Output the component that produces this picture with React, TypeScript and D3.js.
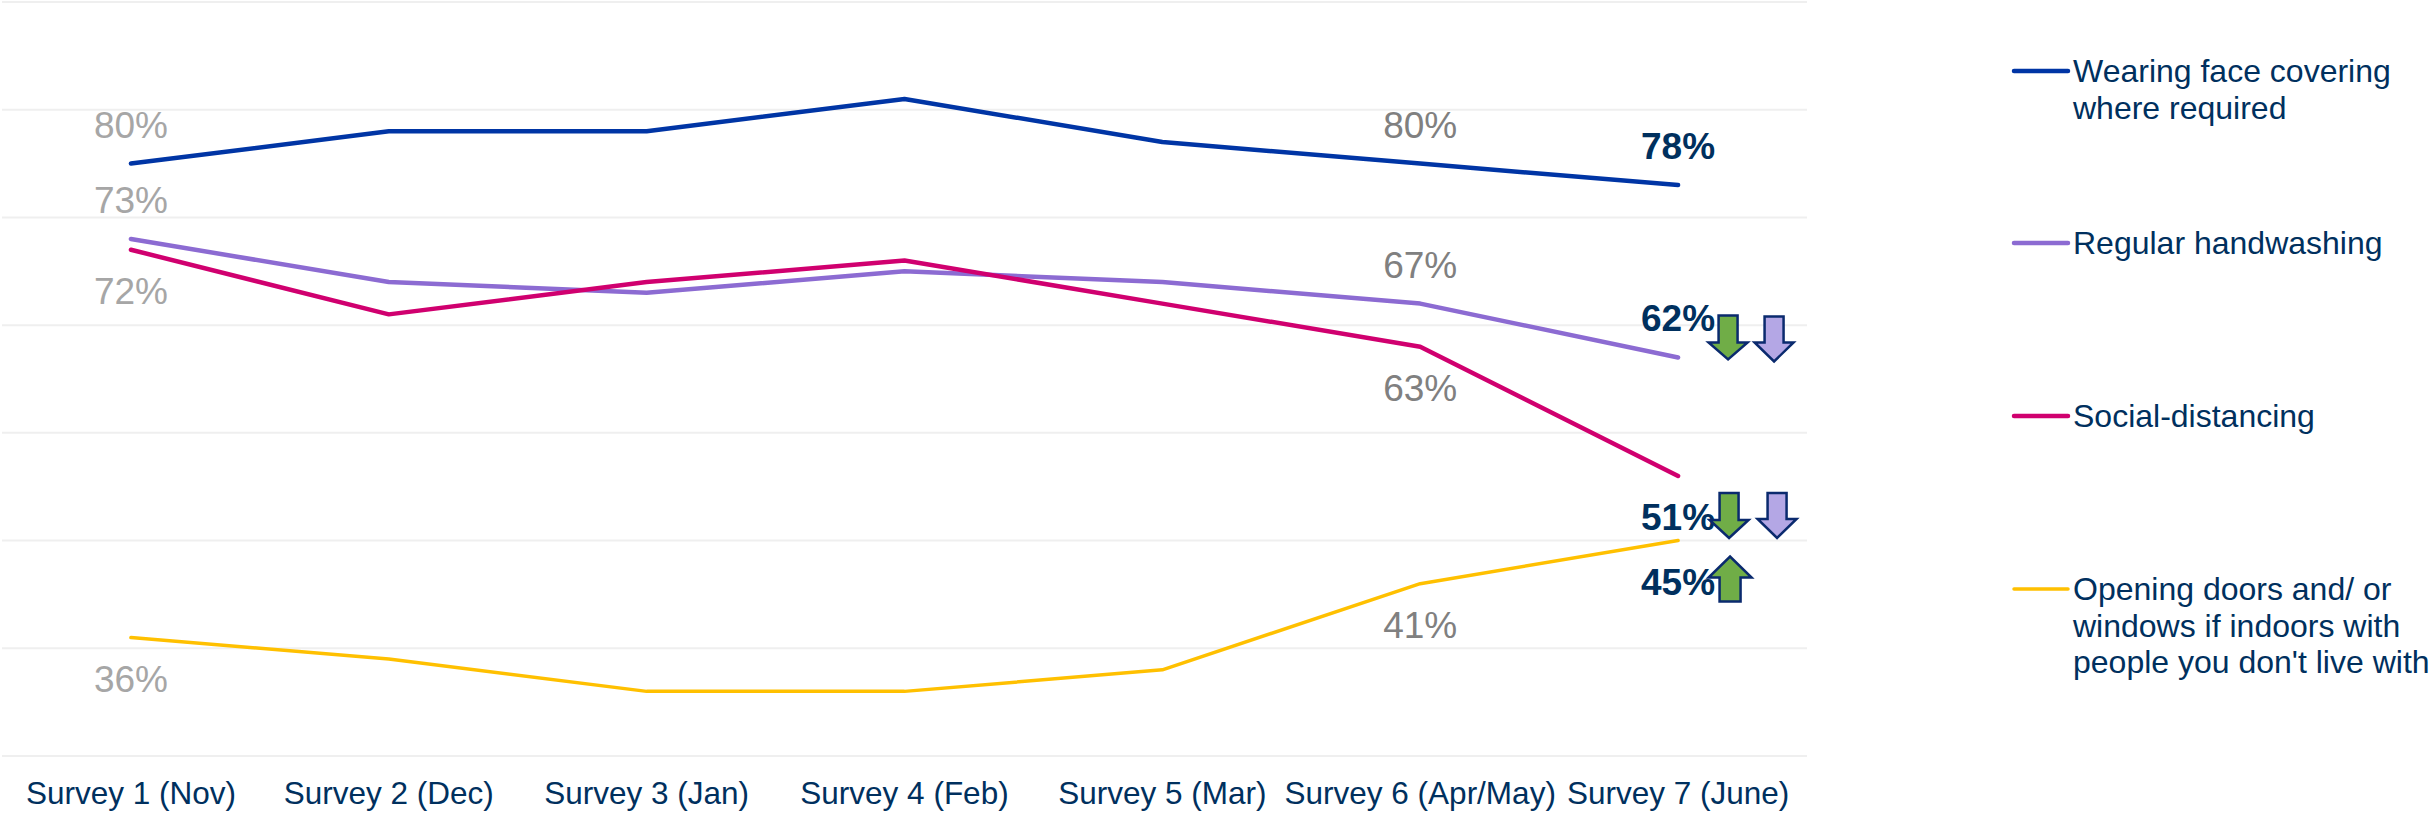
import React from "react";
import * as d3 from "d3";

const surveys = [
  "Survey 1 (Nov)",
  "Survey 2 (Dec)",
  "Survey 3 (Jan)",
  "Survey 4 (Feb)",
  "Survey 5 (Mar)",
  "Survey 6 (Apr/May)",
  "Survey 7 (June)",
];
const faceCovering = [80, 83, 83, 86, 82, 80, 78];
const handwashing = [73, 69, 68, 70, 69, 67, 62];
const socialDistancing = [72, 66, 69, 71, 67, 63, 51];
const openingWindows = [36, 34, 31, 31, 33, 41, 45];
const gridTicks = [25, 35, 45, 55, 65, 75, 85, 95];

const seriesNames = [
  ["Wearing face covering", "where required"],
  ["Regular handwashing"],
  ["Social-distancing"],
  ["Opening doors and/ or", "windows if indoors with", "people you don't live with"],
];
const seriesValues = [faceCovering, handwashing, socialDistancing, openingWindows];
const seriesColors = ["#0035a5", "#8c6bd2", "#d0006f", "#ffc000"];
const seriesWidths = [4.5, 4.5, 4.5, 3.5];
const labelAbove = [true, true, false, false];
const greyLabelIdx = [0, 5];
const greyLabelColors = ["#a6a6a6", "#808080"];
const legendY = [71, 243, 416, 589];

// change arrows next to the final values: [seriesIndex, direction, fill, offsets]
const arrows = [
  { s: 1, dir: "down", fill: "#70ad47", dx: 50, top: -16, base: 11, tip: 28 },
  { s: 1, dir: "down", fill: "#b4a7e5", dx: 96, top: -15, base: 11, tip: 30 },
  { s: 2, dir: "down", fill: "#70ad47", dx: 51, top: -37, base: -10, tip: 8 },
  { s: 2, dir: "down", fill: "#b4a7e5", dx: 99, top: -37, base: -11, tip: 8 },
  { s: 3, dir: "up", fill: "#70ad47", dx: 52, top: 7, base: -17, tip: -38 },
];

const NAVY = "#00305e";
const FONT = "'Liberation Sans', Arial, Helvetica, sans-serif";

export default function App() {
  const W = 2432;
  const H = 813;
  const x = d3.scaleBand<string>().domain(surveys).range([2, 1807]).padding(0);
  const y = d3.scaleLinear().domain([25, 95]).range([756, 2]);
  const cx = (i: number) => (x(surveys[i]) as number) + x.bandwidth() / 2;
  const line = d3
    .line<number>()
    .x((_, i) => cx(i))
    .y((v) => y(v));

  const last = surveys.length - 1;
  const labelY = (s: number, v: number) => y(v) + (labelAbove[s] ? -26 : 54);

  const arrowPath = (a: any) => {
    const ax = cx(last) + a.dx;
    const by = labelY(a.s, seriesValues[a.s][last]);
    const sw = a.dir === "up" ? 10.5 : 9.5;
    const hw = a.dir === "up" ? 21.5 : 19.5;
    const t = by + a.top;
    const b = by + a.base;
    const p = by + a.tip;
    return `M${ax - sw},${t} L${ax + sw},${t} L${ax + sw},${b} L${ax + hw},${b} L${ax},${p} L${ax - hw},${b} L${ax - sw},${b} Z`;
  };

  return (
    <svg
      width={W}
      height={H}
      style={{ position: "fixed", left: 0, top: 0, background: "#fff" }}
      fontFamily={FONT}
    >
      {gridTicks.map((t) => (
        <line key={t} x1={2} x2={1807} y1={y(t)} y2={y(t)} stroke="#efefef" strokeWidth={2} />
      ))}

      {seriesValues.map((vals, s) => (
        <path
          key={s}
          d={line(vals) as string}
          fill="none"
          stroke={seriesColors[s]}
          strokeWidth={seriesWidths[s]}
          strokeLinecap="round"
          strokeLinejoin="round"
        />
      ))}

      {seriesValues.map((vals, s) =>
        greyLabelIdx.map((i, k) => (
          <text
            key={`g${s}-${i}`}
            x={cx(i)}
            y={labelY(s, vals[i])}
            textAnchor="middle"
            fontSize={37}
            fill={greyLabelColors[k]}
          >
            {vals[i]}%
          </text>
        ))
      )}

      {seriesValues.map((vals, s) => (
        <text
          key={`b${s}`}
          x={cx(last)}
          y={labelY(s, vals[last])}
          textAnchor="middle"
          fontSize={37}
          fontWeight="bold"
          fill={NAVY}
        >
          {vals[last]}%
        </text>
      ))}

      {arrows.map((a, i) => (
        <path key={`a${i}`} d={arrowPath(a)} fill={a.fill} stroke="#0a2a6e" strokeWidth={2.5} strokeLinejoin="miter" />
      ))}

      {surveys.map((s, i) => (
        <text key={s} x={cx(i)} y={804} textAnchor="middle" fontSize={31.5} fill={NAVY}>
          {s}
        </text>
      ))}

      {seriesNames.map((lines, s) => (
        <g key={`l${s}`}>
          <line
            x1={2014}
            x2={2068}
            y1={legendY[s]}
            y2={legendY[s]}
            stroke={seriesColors[s]}
            strokeWidth={seriesWidths[s]}
            strokeLinecap="round"
          />
          {lines.map((ln, j) => (
            <text key={j} x={2073} y={legendY[s] + 11 + j * 36.5} fontSize={32} fill={NAVY}>
              {ln}
            </text>
          ))}
        </g>
      ))}
    </svg>
  );
}
